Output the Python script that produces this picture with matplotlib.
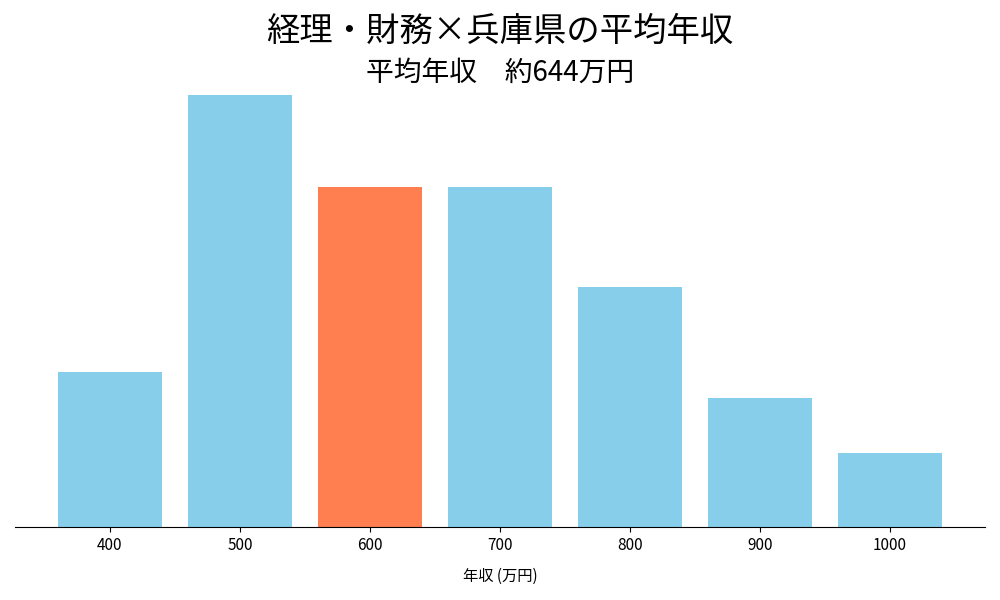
import matplotlib
matplotlib.use("Agg")
import matplotlib.pyplot as plt

plt.rcParams['font.family'] = ['Noto Sans CJK JP', 'DejaVu Sans']

categories = ["400", "500", "600", "700", "800", "900", "1000"]
values = [155, 432, 340, 340, 240, 129, 74]
colors = ["#87CEEB", "#87CEEB", "#FF7F50", "#87CEEB", "#87CEEB", "#87CEEB", "#87CEEB"]

fig = plt.figure(figsize=(10, 6), dpi=100)
ax = fig.add_axes([0.015, 0.122, 0.97, 0.72])
x = range(len(categories))
ax.bar(x, values, width=0.8, color=colors)
ax.set_xticks(list(x))
ax.set_xticklabels(categories, fontsize=11)
ax.set_xlim(-0.73, 6.73)
ax.set_ylim(0, max(values))
ax.set_yticks([])
for s in ["left", "right", "top"]:
    ax.spines[s].set_visible(False)
ax.set_xlabel("年収 (万円)", fontsize=11, labelpad=10)
fig.text(0.5, 0.948, "経理・財務×兵庫県の平均年収", ha="center", va="center", fontsize=24)
fig.text(0.5, 0.878, "平均年収　約644万円", ha="center", va="center", fontsize=20)
fig.savefig("out.png")
